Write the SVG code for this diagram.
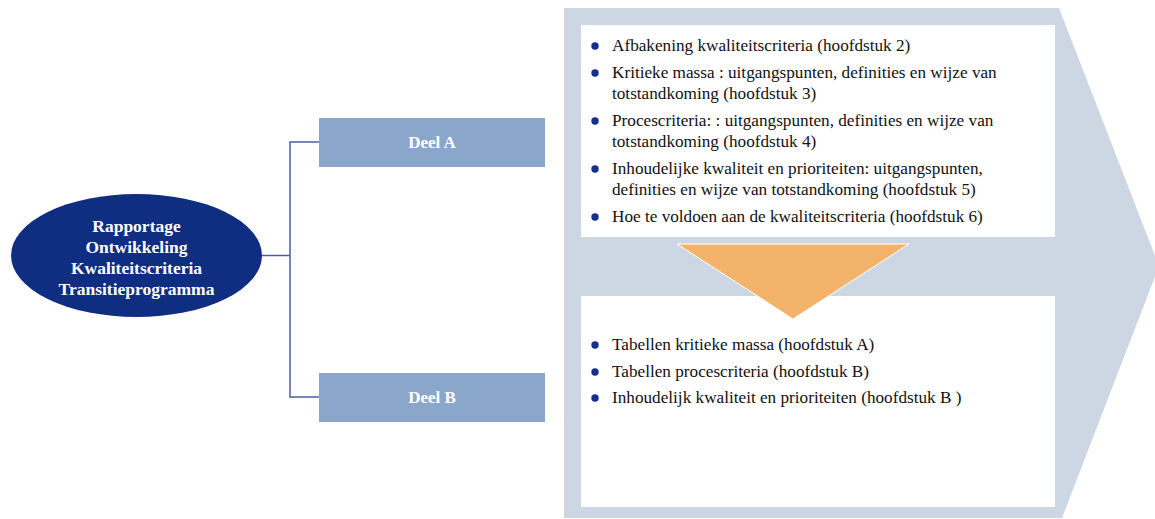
<svg xmlns="http://www.w3.org/2000/svg" width="1155" height="519" viewBox="0 0 1155 519">
<style>
.t{font-family:'Liberation Serif','DejaVu Serif',serif;font-size:17.2px;fill:#111}
.w{font-family:'Liberation Serif','DejaVu Serif',serif;font-size:17.5px;font-weight:bold;fill:#fff;text-anchor:middle}
.d{font-size:17px}
.b{fill:#13308a}
.box{fill:#8aa6cb}
.conn{fill:none;stroke:#4a5ca6;stroke-width:1.5}
</style>
<rect width="1155" height="519" fill="#fff"/>
<g id="chevron">
<polygon points="564,8 1059,8 1159,266 1062,518 564,518" fill="#cdd7e3"/>
<rect x="581" y="25" width="474" height="212" fill="#fff"/>
<rect x="581" y="296" width="474" height="211" fill="#fff"/>
<polygon points="677,244 909,244 793,319" fill="#f4b36a" stroke="#fff" stroke-width="1"/>
</g>
<g id="connectors">
<polyline class="conn" points="262,255.5 290,255.5"/>
<polyline class="conn" points="319,142 290,142 290,397 319,397"/>
</g>
<g id="root">
<ellipse cx="136.5" cy="255.5" rx="125.5" ry="61.5" fill="#0f2e82"/>
<text class="w" x="136.5" y="232">Rapportage</text>
<text class="w" x="136.5" y="253">Ontwikkeling</text>
<text class="w" x="136.5" y="274">Kwaliteitscriteria</text>
<text class="w" x="136.5" y="295">Transitieprogramma</text>
</g>
<g id="deelA">
<rect class="box" x="319" y="118" width="226" height="49"/>
<text class="w d" x="432" y="148">Deel A</text>
</g>
<g id="deelB">
<rect class="box" x="319" y="373" width="226" height="49"/>
<text class="w d" x="432" y="403">Deel B</text>
</g>
<g id="listA">
<circle class="b" cx="595" cy="46" r="3.7"/>
<text class="t" x="612" y="51">Afbakening kwaliteitscriteria (hoofdstuk 2)</text>
<circle class="b" cx="595" cy="73" r="3.7"/>
<text class="t" x="612" y="78">Kritieke massa : uitgangspunten, definities en wijze van</text>
<text class="t" x="612" y="99">totstandkoming (hoofdstuk 3)</text>
<circle class="b" cx="595" cy="121" r="3.7"/>
<text class="t" x="612" y="126">Procescriteria: : uitgangspunten, definities en wijze van</text>
<text class="t" x="612" y="147">totstandkoming (hoofdstuk 4)</text>
<circle class="b" cx="595" cy="169" r="3.7"/>
<text class="t" x="612" y="174">Inhoudelijke kwaliteit en prioriteiten: uitgangspunten,</text>
<text class="t" x="612" y="195">definities en wijze van totstandkoming (hoofdstuk 5)</text>
<circle class="b" cx="595" cy="217" r="3.7"/>
<text class="t" x="612" y="222">Hoe te voldoen aan de kwaliteitscriteria (hoofdstuk 6)</text>
</g>
<g id="listB">
<circle class="b" cx="595" cy="345" r="3.7"/>
<text class="t" x="612" y="350">Tabellen kritieke massa (hoofdstuk A)</text>
<circle class="b" cx="595" cy="372" r="3.7"/>
<text class="t" x="612" y="377">Tabellen procescriteria (hoofdstuk B)</text>
<circle class="b" cx="595" cy="398" r="3.7"/>
<text class="t" x="612" y="403">Inhoudelijk kwaliteit en prioriteiten (hoofdstuk B )</text>
</g>
</svg>
